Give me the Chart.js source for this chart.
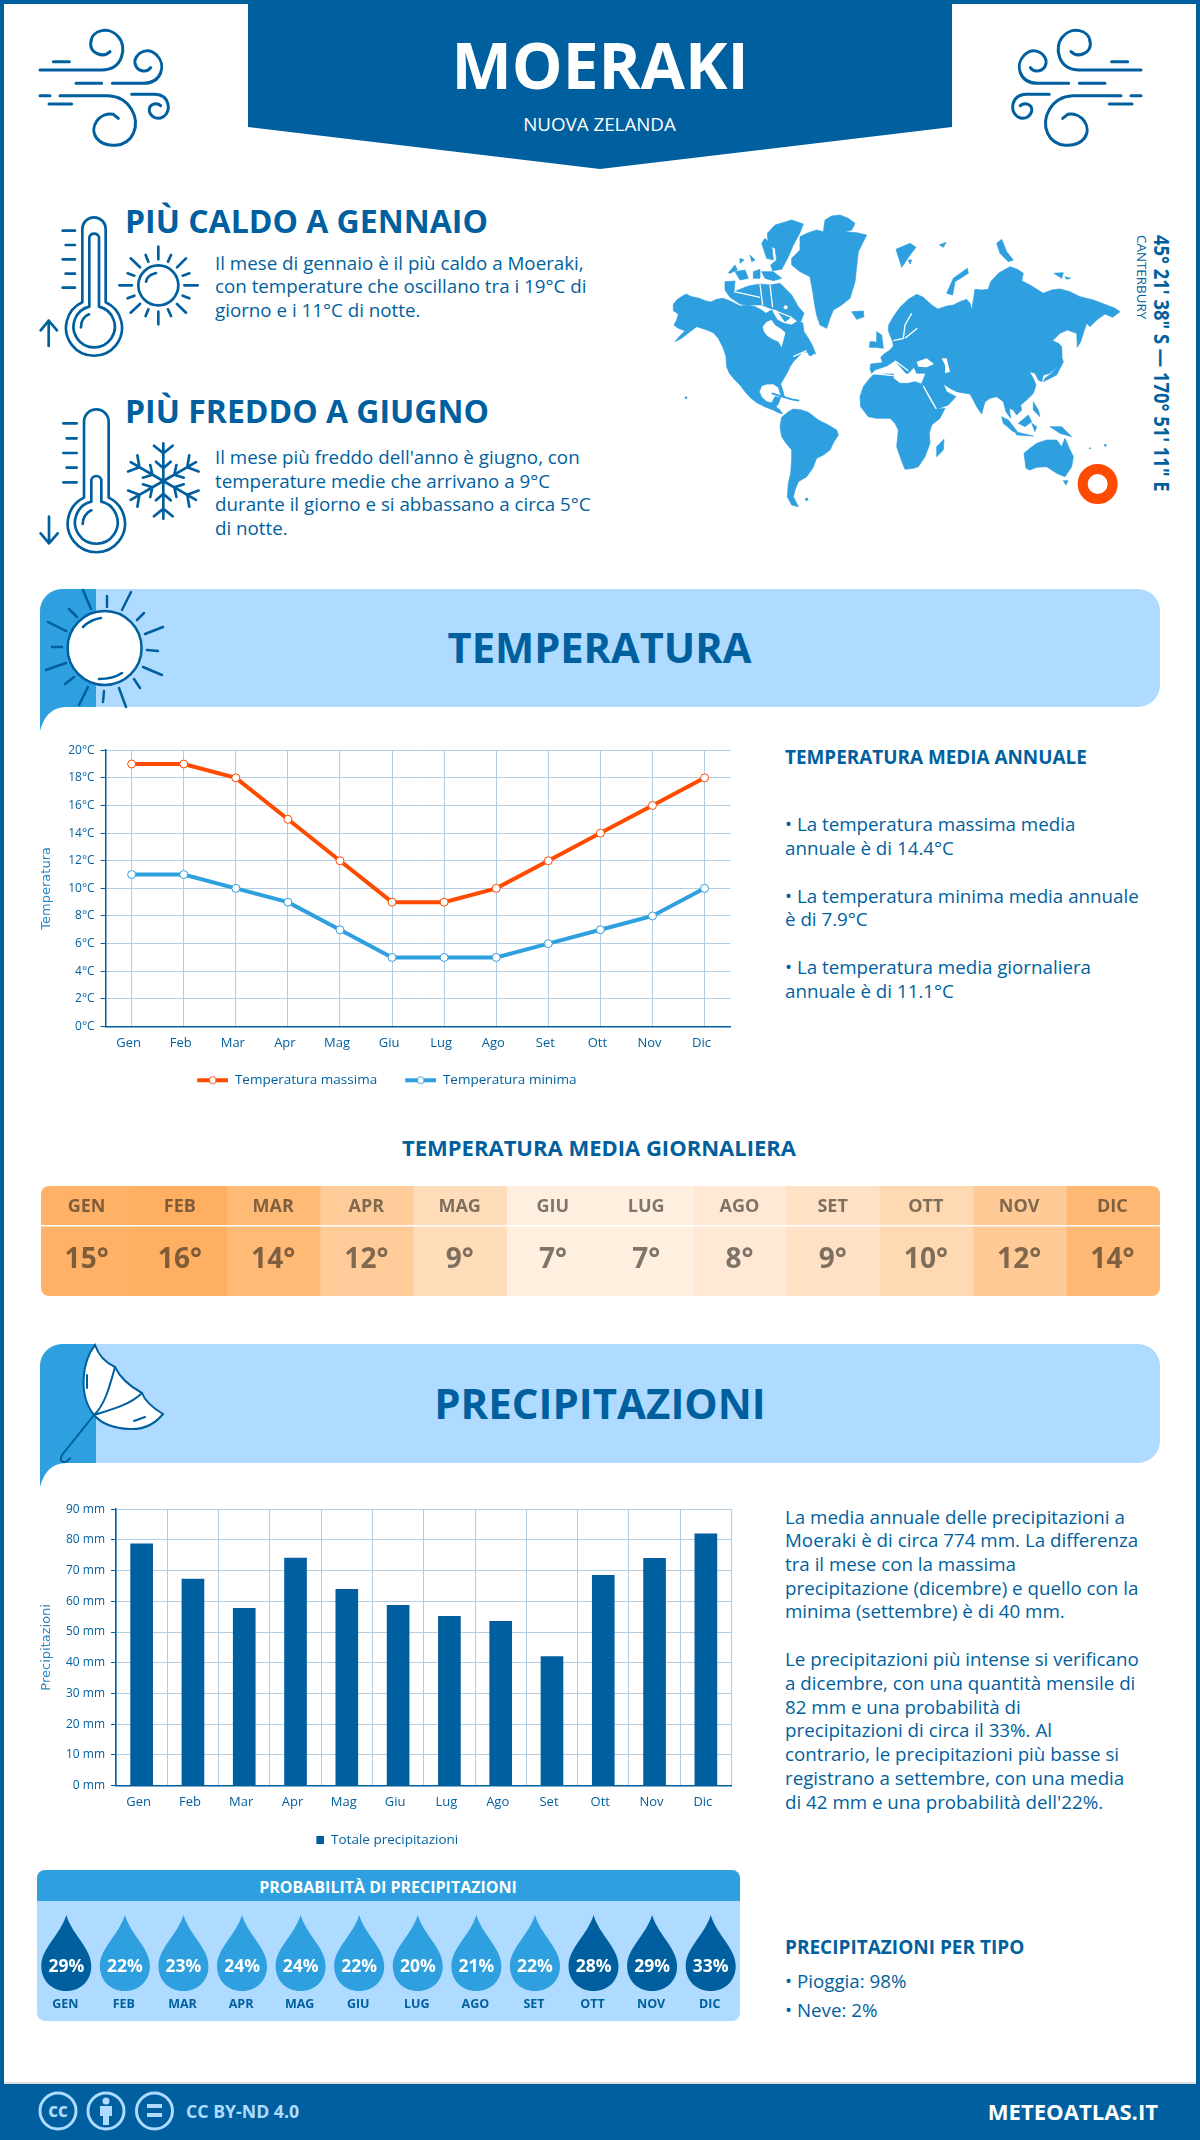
<!DOCTYPE html>
<html lang="it"><head><meta charset="utf-8"><title>Moeraki</title>
<script src="https://cdn.jsdelivr.net/npm/chart.js@4"></script>
<style>
html,body{margin:0;padding:0;background:#fff}
#page{position:relative;width:1200px;height:2140px;overflow:hidden;font-family:"Open Sans",sans-serif;color:#005F9E}
#page svg.bg{position:absolute;left:0;top:0}
canvas{position:absolute;display:block}
.t{position:absolute;white-space:nowrap}
</style></head><body><div id="page">
<svg class="bg" width="1200" height="2140" viewBox="0 0 1200 2140">
<defs>
<g id="wind" fill="none" stroke="#005F9E" stroke-width="9" stroke-linecap="round">
<path d="M30,165H215C280,165 292,95 265,65C240,35 185,40 182,85C180,115 220,130 240,110"/>
<path d="M70,140H118M138,205H215M30,242H60M57,267H125"/>
<path d="M247,205H340C395,205 410,150 380,120C350,90 310,120 315,145C320,170 350,175 362,158"/>
<path d="M90,242H235C300,245 330,310 310,355C290,400 225,400 200,370C175,335 210,290 250,298L265,310"/>
<path d="M305,238H375C420,240 425,290 400,305C375,320 350,295 360,275C370,262 385,265 392,272"/>
</g>
<g id="arm"><path d="M0,0V-113M-28,-106L0,-83L28,-106M-22,-58L0,-38L22,-58"/></g>
</defs>
<path d="M0,0H1200V2140H0Z M4,4V2084H1196V4Z" fill="#005F9E" fill-rule="evenodd"/>
<rect x="4" y="2082" width="1192" height="2" fill="#d9dde0"/>
<rect x="0" y="2084" width="1200" height="56" fill="#005F9E"/>
<path d="M248,0H952V127L600,169L248,127Z" fill="#005F9E"/>
<svg x="30" y="15" width="160" height="140" viewBox="0 0 480 420"><use href="#wind"/></svg>
<g transform="translate(1181,0) scale(-1,1)"><svg x="30" y="15" width="160" height="140" viewBox="0 0 480 420"><use href="#wind"/></svg></g>
<svg x="30" y="205" width="180" height="360" viewBox="0 0 540 1080" fill="none" stroke="#005F9E" stroke-width="8" stroke-linecap="round" stroke-linejoin="round">
<path d="M157,292V72A35,35 0 0 1 227,72V292A84,84 0 1 1 157,292Z"/>
<path d="M178,305V97A15,15 0 0 1 207,97V305A62,62 0 1 1 178,305Z"/>
<path d="M153,367C153,350 160,335 177,328M98,77H135M107,120H135M98,163H135M107,206H135M98,248H135M56,423V347M32,376L56,347L81,376"/>
<circle cx="385" cy="241" r="60"/>
<path d="M348,230C350,218 360,208 378,204M385,125V163M385,320V358M268,241H306M463,241H503M302,160L330,187M468,160L441,187M302,323L330,297M468,323L441,297M347,150L355,170M423,150L414,170M293,205L313,212M478,205L458,212M293,280L313,272M478,280L458,272M347,333L355,313M423,333L414,313"/>
<path d="M162,878V650A37,37 0 0 1 236,650V878A86,86 0 1 1 162,878Z"/>
<path d="M184,890V828A15,15 0 0 1 214,828V890A64,64 0 1 1 184,890Z"/>
<path d="M158,957C158,940 168,922 184,916M100,655H140M110,700H140M100,744H140M110,788H140M100,832H140M57,935V1015M32,985L57,1015L83,985"/>
<g transform="translate(400,828)"><use href="#arm"/><use href="#arm" transform="rotate(60)"/><use href="#arm" transform="rotate(120)"/><use href="#arm" transform="rotate(180)"/><use href="#arm" transform="rotate(240)"/><use href="#arm" transform="rotate(300)"/></g>
</svg>
<svg x="660" y="210" width="520" height="310" viewBox="0 0 1560 930">
<g fill="#2E9FDF" stroke="#2E9FDF" stroke-width="2" stroke-linejoin="round">
<path d="M40,283L52,268L78,252L95,260L118,265L135,272L152,276L170,268L190,265L215,275L240,288L262,285L285,290L305,300L318,310L335,300L345,318L352,330L372,340L395,345L410,335L428,338L432,365L445,385L458,408L467,432L450,428L430,425L415,440L400,455L390,470L385,482L372,505L362,522L368,540L373,560L364,560L355,532L340,522L322,522L305,527L298,545L305,562L320,575L335,578L345,560L362,562L355,582L348,590L360,600L368,612L355,608L340,600L318,592L290,578L270,562L255,545L240,525L225,510L208,490L200,470L198,440L190,415L175,385L160,368L135,358L110,350L90,365L65,385L45,395L62,375L75,362L55,355L42,345L50,330L55,312L40,302Z"/>
<path d="M365,622L385,605L400,597L425,600L445,607L475,630L505,645L530,660L535,675L522,695L510,720L490,735L470,745L458,775L440,800L415,815L405,840L400,860L415,890L395,885L382,860L385,820L392,790L395,745L395,720L378,700L365,680L360,650Z"/>
<path d="M420,80L445,68L470,60L490,65L495,30L515,18L540,15L565,25L585,40L575,60L555,65L590,68L620,75L605,105L595,125L590,170L585,215L570,265L545,285L520,300L510,325L500,355L480,345L470,315L465,290L458,245L450,200L420,185L395,165L395,145L420,120Z"/>
<path d="M322,70L345,45L395,30L430,42L420,68L400,105L385,140L365,178L338,182L332,165L350,150L345,115L325,105Z"/>
<path d="M305,100L315,85L335,105L340,150L320,145Z"/>
<path d="M280,185L300,178L300,205L280,205ZM305,185L340,185L365,205L340,212L315,205ZM205,188L225,165L232,180L210,190ZM225,185L255,180L265,205L240,210ZM195,215L225,213L222,245L265,228L300,222L330,225L345,260L350,300L330,295L305,285L262,285L240,282L210,262L195,240ZM270,135L285,150L275,155ZM240,145L252,150L240,160Z"/>
<path d="M330,225L360,220L395,255L415,290L432,310L420,340L395,320L375,335L350,300L345,260L330,245Z"/>
<path d="M575,305L610,303L612,320L590,328Z"/>
<path d="M708,118L750,100L768,112L750,135L725,172ZM838,105L858,97L850,112ZM745,150L755,150L750,162Z"/>
<path d="M1010,100L1025,88L1040,125L1060,150L1045,155L1020,130Z"/>
<path d="M860,250L880,205L922,175L925,190L885,215L878,255Z"/>
<path d="M1182,190L1210,188L1205,205ZM1215,200L1232,205L1220,208Z"/>
<path d="M645,480L635,490L630,478L632,462L650,460L668,458L662,442L672,432L690,420L700,408L698,395L692,380L685,362L686,345L700,320L720,292L745,268L770,253L790,262L815,285L835,298L825,312L805,322L815,305L840,295L860,288L880,285L900,275L920,268L930,280L935,300L940,270L945,238L965,240L985,238L992,215L1015,190L1050,170L1072,178L1090,190L1085,212L1110,225L1150,250L1175,240L1200,237L1230,245L1260,260L1300,270L1340,285L1365,295L1380,305L1358,322L1335,312L1310,330L1290,350L1280,340L1270,370L1262,395L1252,412L1250,370L1222,360L1200,370L1178,392L1195,400L1205,420L1205,450L1190,470L1170,490L1150,495L1145,515L1135,510L1125,490L1108,485L1120,505L1128,525L1120,550L1100,570L1082,585L1085,600L1070,615L1060,600L1048,595L1052,625L1038,605L1030,575L1010,560L990,565L975,575L965,612L950,590L940,570L930,552L905,548L890,545L870,535L850,522L860,545L888,560L865,585L832,597L815,570L795,535L785,520L797,490L770,490L762,472L745,490L738,490L705,452L680,468Z"/>
<path d="M785,522L765,515L745,520L720,520L700,505L700,492L680,492L640,494L625,510L610,530L600,560L602,590L625,620L650,625L690,625L705,640L715,660L712,690L710,710L722,745L735,778L760,775L775,770L795,740L810,700L808,670L815,645L840,625L855,595L830,598L810,570Z"/>
<path d="M852,688L850,720L830,740L830,710Z"/>
<path d="M650,365L665,375L670,415L630,410L650,395ZM630,395L645,395L640,412L628,412Z"/>
<path d="M1025,620L1045,630L1072,665L1060,665L1030,640ZM1065,665L1120,678L1070,675ZM1075,640L1105,615L1115,635L1095,650ZM1120,575L1135,600L1140,620L1120,600ZM1115,640L1130,650L1125,665ZM1170,650L1205,650L1235,680L1200,670ZM1150,515L1190,495L1210,455L1200,430L1190,470L1175,490L1155,505ZM1195,400L1205,410L1205,450L1198,440Z"/>
<path d="M1092,730L1110,715L1130,700L1160,690L1190,690L1205,710L1215,685L1228,715L1240,740L1235,770L1215,800L1190,790L1160,770L1130,772L1110,780L1098,775ZM1210,812L1224,812L1218,825Z"/>
<circle cx="452" cy="430" r="7"/><circle cx="1290" cy="715" r="2"/><circle cx="1336" cy="706" r="3"/><circle cx="78" cy="563" r="3"/><circle cx="440" cy="868" r="4"/>
</g>
<path d="M308,350L320,335L335,330L345,345L365,358L376,368L372,385L365,412L355,395L338,388L322,378L312,365Z" fill="#fff"/>
<circle cx="377" cy="292" r="6" fill="#fff"/>
<path d="M770,455L800,445L822,462L800,472L775,470ZM845,445L860,445L870,485L855,490L855,465Z" fill="#fff"/>
<g fill="none" stroke="#fff" stroke-width="4"><path d="M755,310L735,345L730,385L700,392M735,385L772,355M705,452L745,482M400,440L440,422M790,528L828,596M640,491L700,497M222,245L300,262M300,222L308,285M330,225L338,292M340,300L395,322"/></g>
<path d="M335,550L395,568L418,572" fill="none" stroke="#2E9FDF" stroke-width="5"/>
<circle cx="1313" cy="822" r="45" fill="none" stroke="#FF4B00" stroke-width="30"/>
</svg>
<path d="M96,589H1138A22,22 0 0 1 1160,611V685A22,22 0 0 1 1138,707H96Z" fill="#AEDBFF"/>
<path d="M40,731C44,716 52,707 66,707H96V589H62A22,22 0 0 0 40,611Z" fill="#2E9FDF"/>
<g fill="none" stroke="#005F9E" stroke-width="2.5" stroke-linecap="round">
<path d="M83,590L91,609M107,596V607M131,592L122,610M144,613L137,620M163,627L145,634M147,650L158,651M143,667L162,675M134,679L140,688M119,688L126,707M104,691L103,702M88,687L79,705M74,677L65,684M66,663L46,670M62,647H52M66,631L48,622M77,617L69,609"/>
<circle cx="104.6" cy="648" r="37" fill="#fff"/>
<path d="M83,627C88,622 94,619 101,618M99,679C108,679 116,677 122,673"/>
</g>
<path d="M96,1344H1138A22,22 0 0 1 1160,1366V1441A22,22 0 0 1 1138,1463H96Z" fill="#AEDBFF"/>
<path d="M40,1487C44,1472 52,1463 66,1463H96V1344H62A22,22 0 0 0 40,1366Z" fill="#2E9FDF"/>
<g fill="none" stroke="#005F9E" stroke-width="2" stroke-linecap="round">
<path d="M95,1345C82,1362 78,1395 94,1415Q105,1428 130,1429Q150,1430 163,1414Q146,1404 142,1393Q122,1382 115,1367Q100,1360 95,1345Z" fill="#fff"/>
<path d="M94,1415C110,1410 130,1405 142,1393M115,1367C110,1385 105,1405 94,1415M94,1415L62,1455C58,1462 65,1465 70,1458M87,1375V1388M134,1421L145,1417"/>
</g>
<path d="M37,1901H740V2013A8,8 0 0 1 732,2021H45A8,8 0 0 1 37,2013Z" fill="#AEDBFF"/>
<path d="M37,1901V1878A8,8 0 0 1 45,1870H732A8,8 0 0 1 740,1878V1901Z" fill="#2E9FDF"/>
<g fill="none" stroke="#AEDBFF" stroke-width="3">
<circle cx="58" cy="2111" r="18"/><circle cx="106" cy="2111" r="18"/><circle cx="154.500" cy="2111" r="18"/>
</g>
<g fill="#AEDBFF"><circle cx="106" cy="2101" r="3.500"/><path d="M100,2106H112V2116H109V2125H103V2116H100Z"/><rect x="147" y="2104" width="15" height="4"/><rect x="147" y="2113" width="15" height="4"/></g>
<text x="58" y="2117" text-anchor="middle" font-family="Open Sans" font-weight="700" font-size="19" fill="#AEDBFF">cc</text>
</svg>
<canvas id="tempChart" width="722" height="360" style="left:25px;top:737px"></canvas>
<canvas id="heatChart" width="1119" height="110" style="left:41px;top:1186px;border-radius:8px"></canvas>
<canvas id="rainChart" width="713" height="361" style="left:35px;top:1496px"></canvas>
<canvas id="probChart" width="703" height="120" style="left:37px;top:1901px"></canvas>
</div>
<script>
const months = ['Gen','Feb','Mar','Apr','Mag','Giu','Lug','Ago','Set','Ott','Nov','Dic'];
const monthsUpper = ['GEN','FEB','MAR','APR','MAG','GIU','LUG','AGO','SET','OTT','NOV','DIC'];
const tempMax = [19,19,18,15,12,9,9,10,12,14,16,18];
const tempMin = [11,11,10,9,7,5,5,5,6,7,8,10];
const tempMean = [15,16,14,12,9,7,7,8,9,10,12,14];
const heatColors = ['#FFB267','#FFAF62','#FFBA76','#FFCC99','#FFDDBB','#FFEFDF','#FFEFDF','#FFE9D4','#FFE1C6','#FFD9B2','#FFCA95','#FFB873'];
const rainTotal = [78.7,67.2,57.7,74.1,63.9,58.7,55.1,53.5,42,68.5,74,82];
const rainProb = [29,22,23,24,24,22,20,21,22,28,29,33];

const BLUE='#005F9E', LIGHT='#2E9FDF', ORANGE='#FF4B00', GRID='#B3CEE3';
const FONT='"Open Sans"';
const page=document.getElementById('page');
function T(x,y,text,size,weight,opts){
  opts=opts||{};
  const d=document.createElement('div');d.className='t';d.textContent=text;
  const lh=Math.round(size*1.4);
  d.style.cssText+=`top:${y-lh/2}px;line-height:${lh}px;font-size:${size}px;font-weight:${weight};color:${opts.color||BLUE};`;
  if(opts.anchor==='c'){d.style.left=(x-600)+'px';d.style.width='1200px';d.style.textAlign='center';}
  else if(opts.anchor==='r'){d.style.right=(1200-x)+'px';}
  else d.style.left=x+'px';
  page.appendChild(d);
}
const BODY=18.75;
T(600,65,'MOERAKI',64,700,{anchor:'c',color:'#fff'});
T(599.500,124,'NUOVA ZELANDA',18.75,400,{anchor:'c',color:'#fff'});
T(125,220,'PIÙ CALDO A GENNAIO',32,700);
[[262.5,'Il mese di gennaio è il più caldo a Moeraki,'],[286,'con temperature che oscillano tra i 19°C di'],[310,'giorno e i 11°C di notte.']].forEach(l=>T(215,l[0],l[1],BODY,400));
T(125,410.500,'PIÙ FREDDO A GIUGNO',32,700);
[[457,'Il mese più freddo dell\'anno è giugno, con'],[480.500,'temperature medie che arrivano a 9°C'],[504,'durante il giorno e si abbassano a circa 5°C'],[528,'di notte.']].forEach(l=>T(215,l[0],l[1],BODY,400));
function V(x,y,text,size,weight,sx){
  const d=document.createElement('div');d.className='t';d.textContent=text;
  d.style.cssText+=`left:${x}px;top:${y}px;font-size:${size}px;font-weight:${weight};line-height:${Math.round(size*1.2)}px;writing-mode:vertical-rl;color:${BLUE};transform:translateX(-50%) scaleX(${sx});`;
  page.appendChild(d);
}
V(1162,235,'45° 21\' 38" S — 170° 51\' 11" E',18.4,700,1.15);
V(1142,235,'CANTERBURY',13.4,400,1);
T(599.500,646.500,'TEMPERATURA',41.6,700,{anchor:'c'});
T(785,757,'TEMPERATURA MEDIA ANNUALE',18.9,700);
[[824,'• La temperatura massima media'],[847.500,'annuale è di 14.4°C'],[895.500,'• La temperatura minima media annuale'],[919,'è di 7.9°C'],[967,'• La temperatura media giornaliera'],[990.500,'annuale è di 11.1°C']].forEach(l=>T(785,l[0],l[1],BODY,400));
T(599,1147,'TEMPERATURA MEDIA GIORNALIERA',22,700,{anchor:'c'});
T(600,1402,'PRECIPITAZIONI',42,700,{anchor:'c'});
[[1516.500,'La media annuale delle precipitazioni a'],[1540,'Moeraki è di circa 774 mm. La differenza'],[1564,'tra il mese con la massima'],[1587.500,'precipitazione (dicembre) e quello con la'],[1611,'minima (settembre) è di 40 mm.'],[1658.500,'Le precipitazioni più intense si verificano'],[1682.500,'a dicembre, con una quantità mensile di'],[1706.500,'82 mm e una probabilità di'],[1730,'precipitazioni di circa il 33%. Al'],[1753.500,'contrario, le precipitazioni più basse si'],[1777.500,'registrano a settembre, con una media'],[1801.500,'di 42 mm e una probabilità dell\'22%.']].forEach(l=>T(785,l[0],l[1],BODY,400));
T(388,1887,'PROBABILITÀ DI PRECIPITAZIONI',16,700,{color:'#fff',anchor:'c'});
T(785,1947,'PRECIPITAZIONI PER TIPO',19,700);
T(785,1981,'• Pioggia: 98%',BODY,400);
T(785,2010,'• Neve: 2%',BODY,400);
T(186,2111,'CC BY-ND 4.0',17.7,700,{color:'#AEDBFF'});
T(1158,2111,'METEOATLAS.IT',22.1,700,{color:'#fff',anchor:'r'});

function legendLine(color){
  const c=document.createElement('canvas');c.width=49;c.height=12;
  const g=c.getContext('2d');
  g.strokeStyle=color;g.lineWidth=4;g.beginPath();g.moveTo(18,6);g.lineTo(49,6);g.stroke();
  g.fillStyle='#fff';g.lineWidth=1;g.beginPath();g.arc(33.500,6,3.500,0,Math.PI*2);g.fill();g.stroke();
  return c;
}
function legendSquare(color){
  const c=document.createElement('canvas');c.width=16;c.height=8;
  const g=c.getContext('2d');g.fillStyle=color;g.fillRect(8,0,8,8);
  return c;
}
const tickFont={family:FONT,size:12};
const titleOpts=(text,pad)=>({display:true,text,color:'#2E86C0',font:{family:'"DejaVu Sans"',size:13},padding:{top:pad,bottom:0}});
function axisX(){return {
  offset:true,
  border:{color:BLUE,width:1.500},
  ticks:{color:BLUE,font:{family:FONT,size:13},padding:9,maxRotation:0,autoSkip:false,labelOffset:-3}
};}

new Chart(document.getElementById('tempChart'),{
  type:'line',
  data:{labels:months,datasets:[
    {label:'Temperatura massima',data:tempMax,borderColor:ORANGE,backgroundColor:'#fff',borderWidth:4,tension:0,pointRadius:4,pointBorderWidth:1,pointBackgroundColor:'#fff',pointBorderColor:ORANGE,pointStyle:'circle'},
    {label:'Temperatura minima',data:tempMin,borderColor:LIGHT,backgroundColor:'#fff',borderWidth:4,tension:0,pointRadius:4,pointBorderWidth:1,pointBackgroundColor:'#fff',pointBorderColor:LIGHT,pointStyle:'circle'}
  ]},
  options:{responsive:false,animation:false,devicePixelRatio:1,
    layout:{padding:{top:8,right:16.400,left:0,bottom:0}},
    plugins:{tooltip:{enabled:false},
      legend:{position:'bottom',labels:{color:BLUE,font:{family:FONT,size:13.500},usePointStyle:true,pointStyleWidth:49,padding:10,boxHeight:12,
        generateLabels(ch){return ch.data.datasets.map((d,i)=>({text:d.label,pointStyle:legendLine(d.borderColor),fontColor:BLUE,datasetIndex:i,hidden:false,lineWidth:0}));}}}},
    scales:{
      x:Object.assign(axisX(),{grid:{color:GRID,drawTicks:false,offset:false},afterFit(s){s.height=37;}}),
      y:{min:0,max:20,
        border:{color:BLUE,width:1.500},
        grid:{color:GRID,tickColor:BLUE,tickLength:5},
        ticks:{color:BLUE,font:tickFont,stepSize:2,padding:6,callback:v=>v+'°C'},
        title:titleOpts('Temperatura',14),afterFit(s){s.width=80.600;}}
    }}
});

new Chart(document.getElementById('rainChart'),{
  type:'bar',
  data:{labels:months,datasets:[{label:'Totale precipitazioni',data:rainTotal,backgroundColor:BLUE,barThickness:22}]},
  options:{responsive:false,animation:false,devicePixelRatio:1,
    layout:{padding:{top:8,right:16.500,left:0,bottom:0}},
    plugins:{tooltip:{enabled:false},
      legend:{position:'bottom',labels:{color:BLUE,font:{family:FONT,size:13.500},usePointStyle:true,pointStyleWidth:16,boxHeight:8,padding:10,
        generateLabels(ch){return ch.data.datasets.map((d,i)=>({text:d.label,pointStyle:legendSquare(d.backgroundColor),fontColor:BLUE,datasetIndex:i,hidden:false,lineWidth:0}));}}}},
    scales:{
      x:Object.assign(axisX(),{grid:{color:c=>c.index===12?'rgba(0,0,0,0)':GRID,drawTicks:false,offset:true},afterFit(s){s.height=38;}}),
      y:{min:0,max:90,
        border:{color:BLUE,width:1.500},
        grid:{color:GRID,tickColor:BLUE,tickLength:5},
        ticks:{color:BLUE,font:tickFont,stepSize:10,padding:6,callback:v=>v+' mm'},
        title:titleOpts('Precipitazioni',4),afterFit(s){s.width=81;}}
    }}
});

const heatLabels={id:'heatLabels',afterDatasetsDraw(ch){
  const g=ch.ctx,x=ch.scales.x;
  g.save();
  g.fillStyle='#fff';g.fillRect(0,39,ch.width,1.500);
  g.textAlign='center';g.textBaseline='middle';g.fillStyle='rgba(40,37,30,0.6)';
  tempMean.forEach((v,i)=>{
    const px=x.getPixelForValue(i)-1;
    g.font='700 18px '+FONT;g.fillText(monthsUpper[i],px,20.500);
    g.font='700 28px '+FONT;g.fillText(v+'°',px,74.500);
  });
  g.restore();
}};
new Chart(document.getElementById('heatChart'),{
  type:'bar',
  data:{labels:monthsUpper,datasets:[{label:'Temperatura media giornaliera',data:tempMean,backgroundColor:heatColors,categoryPercentage:1,barPercentage:1,borderWidth:0}]},
  plugins:[heatLabels],
  options:{responsive:false,animation:false,devicePixelRatio:1,layout:{padding:0},
    plugins:{legend:{display:false},tooltip:{enabled:false}},
    scales:{x:{display:false},y:{display:false,min:0,max:1}}}
});

const probDrops={id:'probDrops',afterDatasetsDraw(ch){
  const g=ch.ctx,x=ch.scales.x,t=14;
  g.save();g.textAlign='center';g.textBaseline='middle';
  rainProb.forEach((v,i)=>{
    const cx=x.getPixelForValue(i);
    g.fillStyle=v>=28?BLUE:LIGHT;
    g.beginPath();g.moveTo(cx,t);
    g.bezierCurveTo(cx+6,t+20,cx+25,t+33,cx+25,t+51);
    g.bezierCurveTo(cx+25,t+66,cx+14,t+76,cx,t+76);
    g.bezierCurveTo(cx-14,t+76,cx-25,t+66,cx-25,t+51);
    g.bezierCurveTo(cx-25,t+33,cx-6,t+20,cx,t);
    g.closePath();g.fill();
    g.fillStyle='#fff';g.font='700 17.5px '+FONT;g.fillText(v+'%',cx,66);
    g.fillStyle=BLUE;g.font='700 12.5px '+FONT;g.fillText(monthsUpper[i],cx-1,103);
  });
  g.restore();
}};
new Chart(document.getElementById('probChart'),{
  type:'bar',
  data:{labels:monthsUpper,datasets:[{label:'Probabilità di precipitazioni',data:rainProb,backgroundColor:'rgba(0,0,0,0)',borderWidth:0}]},
  plugins:[probDrops],
  options:{responsive:false,animation:false,devicePixelRatio:1,layout:{padding:0},
    plugins:{legend:{display:false},tooltip:{enabled:false}},
    scales:{x:{display:false},y:{display:false,min:0,max:100}}}
});
</script></body></html>
